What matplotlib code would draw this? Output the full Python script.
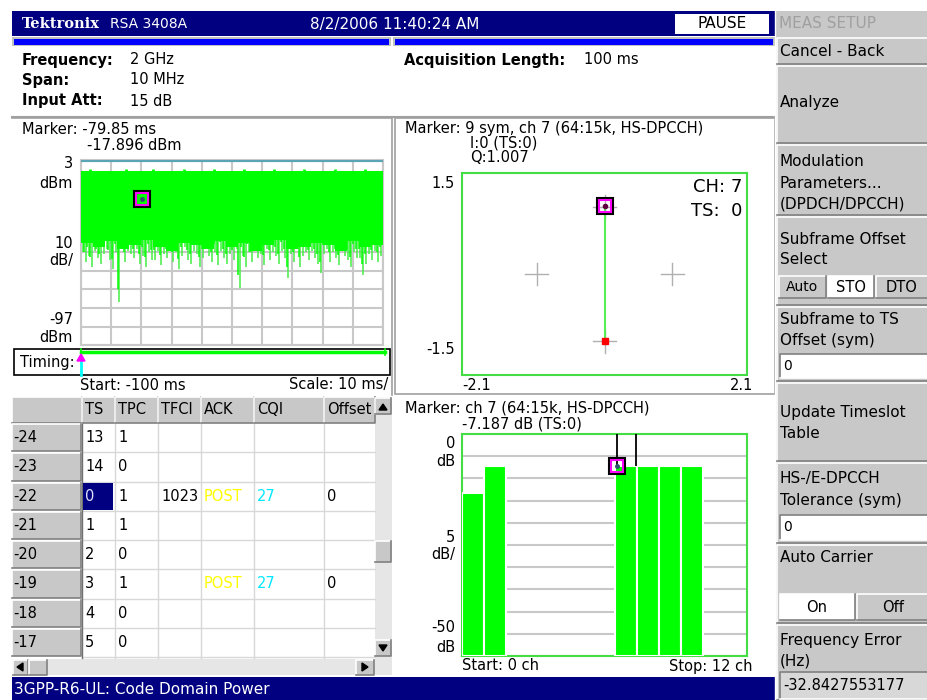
import numpy as np
import matplotlib.pyplot as plt
from matplotlib.patches import Rectangle, Polygon

W, H = 928, 700
NAVY = "#000080"
GREEN = "#00ff00"
GRAY = "#c8c8c8"
GRID = "#c8c8c8"

# --- data read from the screen ---
# time trace: minimum level per 1 ms bin (dBm), -100 ms .. -1 ms
trace_min = [-47, -52, -49, -55, -46, -50, -53, -48, -45, -51,
             -56, -47, -74, -44, -52, -46, -48, -50, -45, -53,
             -49, -55, -47, -51, -51, -46, -54, -48, -50, -45,
             -52, -47, -56, -49, -44, -51, -53, -46, -48, -55,
             -50, -45, -49, -52, -47, -54, -46, -50, -53, -48,
             -51, -45, -66, -49, -55, -47, -52, -46, -50, -48,
             -54, -45, -51, -47, -49, -53, -46, -50, -61, -48,
             -52, -45, -55, -49, -47, -51, -46, -50, -53, -58,
             -48, -45, -52, -47, -50, -54, -46, -49, -51, -55,
             -47, -50, -50, -59, -53, -48, -51, -46, -52, -49]
trace_floor = [-42, -44, -41, -45, -43, -40, -44, -46, -42, -43, -45, -41, -44,
               -42, -46, -43, -40, -45, -44, -42, -43, -46, -41, -44, -43]
trace_top = -3.0
peak_times = [-97, -85, -76, -66, -56, -46, -36, -26, -16, -6]
time_marker = (-79.85, -17.896)

cdp_channels = [0, 1, 7, 8, 9, 10]
cdp_levels = [-13.3, -7.19, -7.187, -7.19, -7.19, -7.19]
cdp_marker = (7.05, -7.187)

const_i = [0.0, 0.0]
const_q = [-1.0, 1.007]
const_ref = [(-1, 0), (1, 0), (0, 1), (0, -1)]

tbl_cols = ["TS", "TPC", "TFCI", "ACK", "CQI", "Offset"]
tbl_rows = ["-24", "-23", "-22", "-21", "-20", "-19", "-18", "-17"]
tbl_ts = ["13", "14", "0", "1", "2", "3", "4", "5"]
tbl_tpc = ["1", "0", "1", "1", "0", "1", "0", "0"]
tbl_tfci = ["", "", "1023", "", "", "", "", ""]
tbl_ack = ["", "", "POST", "", "", "POST", "", ""]
tbl_cqi = ["", "", "27", "", "", "27", "", ""]
tbl_off = ["", "", "0", "", "", "0", "", ""]

fig = plt.figure(figsize=(W / 100, H / 100), dpi=100)
bg = fig.add_axes([0, 0, 1, 1])
bg.set_xlim(0, W)
bg.set_ylim(H, 0)
bg.axis("off")

FS = 10.5


def rect(x0, y0, x1, y1, fc, ec="none", lw=1.0, z=1, **kw):
    bg.add_patch(Rectangle((x0, y0), x1 - x0, y1 - y0, facecolor=fc,
                           edgecolor=ec, lw=lw, zorder=z, **kw))


def txt(x, y, s, size=FS, ha="left", color="black", weight="normal", z=5, **kw):
    bg.text(x, y, s, fontsize=size, ha=ha, va="center", color=color,
            fontweight=weight, zorder=z, **kw)


def bevel(x0, y0, x1, y1, fc=GRAY, sunken=False):
    rect(x0, y0, x1, y1, fc, z=2)
    lt, rb = ("#808080", "white") if sunken else ("white", "#808080")
    bg.plot([x0, x0, x1], [y1, y0, y0], color=lt, lw=1.2, zorder=3)
    bg.plot([x0, x1, x1], [y1, y1, y0], color=rb, lw=1.2, zorder=3)


def fbox(x0, y0, x1, y1):
    return [x0 / W, 1 - y1 / H, (x1 - x0) / W, (y1 - y0) / H]


# --- title bar ---
rect(12, 11, 775, 36, NAVY)
txt(22, 24, "Tektronix", weight="bold", color="white", size=10.5, family="DejaVu Serif")
txt(110, 24, "RSA 3408A", color="white", size=10)
txt(310, 24, "8/2/2006 11:40:24 AM", color="white", size=11)
rect(675, 14, 769, 34, "white")
txt(722, 24, "PAUSE", ha="center", size=11)
rect(12, 37, 391, 46, "#c0c0c0")
rect(14, 38.5, 389, 45, "#0000ff")
rect(393, 37, 775, 46, "#c0c0c0")
rect(395, 38.5, 773, 45, "#0000ff")

# --- setup info ---
txt(22, 60, "Frequency:", weight="bold", size=10.5)
txt(22, 80, "Span:", weight="bold", size=10.5)
txt(22, 101, "Input Att:", weight="bold", size=10.5)
txt(130, 60, "2 GHz")
txt(130, 80, "10 MHz")
txt(130, 101, "15 dB")
txt(404, 60, "Acquisition Length:", weight="bold", size=10.5)
txt(584, 60, "100 ms")
bg.plot([12, 775], [116.5, 116.5], color="#a0a0a0", lw=1.5)

# --- panel borders ---
bg.plot([12, 392, 392], [118, 118, 395], color="#a0a0a0", lw=1.2)
rect(395, 118, 775, 394, "none", ec="#a0a0a0", lw=1.2)

# --- time domain plot ---
txt(22, 129, "Marker: -79.85 ms")
txt(87, 146, "-17.896 dBm")
for y, s in [(164, "3"), (183, "dBm"), (243, "10"), (261, "dB/"),
             (319, "-97"), (337, "dBm")]:
    txt(73, y, s, ha="right")
ax1 = fig.add_axes(fbox(81, 160, 383, 345))
ax1.fill_between(np.arange(-100, 0, 4), trace_top, trace_floor, step="post",
                 color=GREEN, lw=0, zorder=3)
ax1.fill_between([-4, 0], trace_top, trace_floor[-1], color=GREEN, lw=0, zorder=3)
ax1.vlines(np.arange(-100, 0) + 0.5, trace_top, trace_min, color="#44ee44",
           lw=1.1, zorder=2)
ax1.vlines(np.arange(-100, 0) + 0.1, trace_top, np.array(trace_min) * 0.9,
           color=GREEN, lw=1.1, zorder=2)
ax1.vlines(peak_times, trace_top, trace_top + 1.3, color=GREEN, lw=2, zorder=3)
ax1.axhline(3, color="#5aa5b5", lw=3, zorder=4)
ax1.plot(*time_marker, "s", ms=12, mfc="none", mec="black", mew=1.5, zorder=6)
ax1.plot(*time_marker, "s", ms=9, mfc="none", mec="#ff00ff", mew=1.5, zorder=6)
ax1.plot(*time_marker, "o", ms=2.5, color="#305070", zorder=6)
ax1.set_xlim(-100, 0)
ax1.set_ylim(-97, 3)
ax1.set_xticks(np.arange(-100, 1, 10))
ax1.set_yticks(np.arange(-97, 4, 10))
ax1.grid(True, color=GRID, lw=1.5)
ax1.set_axisbelow(True)
ax1.tick_params(length=0, labelbottom=False, labelleft=False)
for sp in ax1.spines.values():
    sp.set_color(GRID)
    sp.set_linewidth(1.5)

rect(14, 349, 390, 375, "white", ec="black", lw=1.2)
bg.plot([81, 385], [352, 352], color=GREEN, lw=2.5, zorder=4)
bg.plot([81, 81], [349, 355], color=GREEN, lw=1.2, zorder=4)
bg.plot([385, 385], [349, 355], color=GREEN, lw=1.2, zorder=4)
txt(20, 362, "Timing:")
bg.plot([81, 81], [359, 375], color="cyan", lw=2, zorder=5)
bg.add_patch(Polygon([[77, 361], [85, 361], [81, 354]], color="#ff00ff", zorder=6))
txt(80, 385, "Start: -100 ms")
txt(388, 385, "Scale: 10 ms/", ha="right")

# --- constellation ---
txt(405, 128, "Marker: 9 sym, ch 7 (64:15k, HS-DPCCH)")
txt(470, 143, "I:0 (TS:0)")
txt(470, 158, "Q:1.007")
txt(455, 183, "1.5", ha="right")
txt(455, 349, "-1.5", ha="right")
txt(462, 385, "-2.1")
txt(753, 385, "2.1", ha="right")
ax2 = fig.add_axes(fbox(462, 173, 747, 375))
for ci, cq in const_ref:
    ax2.plot([ci - 0.17, ci + 0.17], [cq, cq], color="#b0b0b0", lw=1)
    ax2.plot([ci, ci], [cq - 0.17, cq + 0.17], color="#b0b0b0", lw=1)
ax2.plot(const_i, const_q, color="#55ee55", lw=1.5, zorder=3)
ax2.plot(const_i[0], const_q[0], "s", ms=4, color="red", zorder=4)
ax2.plot(const_i[1], const_q[1], "s", ms=12, mfc="none", mec="black", mew=1.5, zorder=6)
ax2.plot(const_i[1], const_q[1], "s", ms=9, mfc="none", mec="#ff00ff", mew=1.5, zorder=6)
ax2.plot(const_i[1], const_q[1], "o", ms=3, color="#600040", zorder=6)
ax2.text(0.985, 0.93, "CH: 7", transform=ax2.transAxes, ha="right", va="center",
         fontsize=13)
ax2.text(0.985, 0.81, "TS:  0", transform=ax2.transAxes, ha="right", va="center",
         fontsize=13)
ax2.set_xlim(-2.1, 2.1)
ax2.set_ylim(-1.5, 1.5)
ax2.set_xticks([])
ax2.set_yticks([])
for sp in ax2.spines.values():
    sp.set_color("#44dd44")
    sp.set_linewidth(1.5)

# --- timeslot table ---
cx = [12, 82, 115, 158, 201, 254, 324, 375]
ry0, rh = 423, 29.25
bevel(12, 397, 82, 423)
for i, c in enumerate(tbl_cols):
    bevel(cx[i + 1], 397, cx[i + 2], 423)
    txt(cx[i + 1] + 3, 410, c)
rect(82, 423, 375, 658, "white", z=1)
cols = [tbl_ts, tbl_tpc, tbl_tfci, tbl_ack, tbl_cqi, tbl_off]
colors = {3: "#ffff00", 4: "#00e8ff"}
for r, lab in enumerate(tbl_rows):
    y0 = ry0 + r * rh
    bevel(12, y0 + 1, 81, y0 + rh - 1)
    txt(13, y0 + rh / 2, lab)
    bg.plot([82, 375], [y0 + rh, y0 + rh], color="#d8d8d8", lw=1, zorder=2)
    for k, col in enumerate(cols):
        val = col[r]
        if not val:
            continue
        c = colors.get(k, "black")
        if k == 0 and r == 2:
            rect(83, y0 + 1, 113, y0 + rh - 1, NAVY, z=3)
            c = "#e0e0ff"
        txt(cx[k + 1] + 3, y0 + rh / 2, val, color=c)
for x in cx[2:7]:
    bg.plot([x, x], [423, 658], color="#d8d8d8", lw=1, zorder=2)
bg.plot([82, 82], [423, 658], color="#707070", lw=1, zorder=2)
# scrollbars
rect(375, 397, 392, 675, "#e6e6e6", z=1)
bevel(375, 398, 391, 414)
bg.add_patch(Polygon([[379, 410], [387, 410], [383, 404]], color="black", zorder=4))
bevel(375, 541, 391, 562)
bevel(375, 640, 391, 656)
bg.add_patch(Polygon([[379, 645], [387, 645], [383, 651]], color="black", zorder=4))
rect(12, 659, 375, 675, "#e6e6e6", z=1)
bevel(13, 660, 28, 675)
bg.add_patch(Polygon([[23, 663], [23, 671], [17, 667]], color="black", zorder=4))
bevel(29, 660, 47, 675)
bevel(356, 660, 374, 675)
bg.add_patch(Polygon([[362, 663], [362, 671], [368, 667]], color="black", zorder=4))

# --- code domain power ---
txt(405, 408, "Marker: ch 7 (64:15k, HS-DPCCH)")
txt(462, 424, "-7.187 dB (TS:0)")
for y, s in [(444, "0"), (462, "dB"), (537, "5"), (555, "dB/"),
             (628, "-50"), (647, "dB")]:
    txt(455, y, s, ha="right")
ax3 = fig.add_axes(fbox(462, 434, 747, 656))
ax3.bar(cdp_channels, np.array(cdp_levels) + 50, bottom=-50, width=1,
        align="edge", color=GREEN, edgecolor="white", lw=1.5, zorder=3)
ax3.vlines([cdp_marker[0], 7.93], cdp_marker[1], 0, color="black", lw=1.3, zorder=4)
ax3.plot(*cdp_marker, "s", ms=12, mfc="none", mec="black", mew=1.5, zorder=6)
ax3.plot(*cdp_marker, "s", ms=9, mfc="none", mec="#ff00ff", mew=1.5, zorder=6)
ax3.plot(*cdp_marker, "o", ms=2.5, color="#305070", zorder=6)
ax3.set_xlim(0, 13)
ax3.set_ylim(-50, 0)
ax3.set_yticks(np.arange(-50, 1, 5))
ax3.set_xticks([])
ax3.grid(True, axis="y", color=GRID, lw=1.5)
ax3.set_axisbelow(True)
ax3.tick_params(length=0, labelleft=False)
for sp in ax3.spines.values():
    sp.set_color("#44dd44")
    sp.set_linewidth(1.5)
txt(462, 666, "Start: 0 ch")
txt(753, 666, "Stop: 12 ch", ha="right")

# --- status bar ---
rect(12, 677, 775, 700, NAVY)
txt(14, 689, "3GPP-R6-UL: Code Domain Power", color="white", size=11)

# --- side menu ---
rect(775, 11, W, H, GRAY, z=0)
bg.plot([775.5, 775.5], [11, H], color="white", lw=1)
txt(779, 24, "MEAS SETUP", color="#a0a0a0", size=11)
menu = [(38, 64, 52, ["Cancel - Back"]),
        (66, 143, 103, ["Analyze"]),
        (145, 215, 162, ["Modulation", "Parameters...", "(DPDCH/DPCCH)"]),
        (217, 305, 239, ["Subframe Offset", "Select"]),
        (307, 381, 319, ["Subframe to TS", "Offset (sym)"]),
        (383, 461, 412, ["Update Timeslot", "Table"]),
        (463, 543, 479, ["HS-/E-DPCCH", "Tolerance (sym)"]),
        (545, 623, 558, ["Auto Carrier"]),
        (625, 700, 640, ["Frequency Error", "(Hz)"])]
for y0, y1, ty, lines in menu:
    bevel(777, y0, 929, y1)
    for j, s in enumerate(lines):
        txt(780, ty + 21 * j, s, size=11)
# sub-buttons
bevel(779, 276, 826, 298)
txt(802, 287, "Auto", ha="center", size=10)
bevel(828, 276, 874, 298, fc="white")
txt(851, 287, "STO", ha="center", size=10.5)
bevel(876, 276, 929, 298)
txt(902, 287, "DTO", ha="center", size=10.5)
bevel(780, 354, 929, 378, fc="white", sunken=True)
txt(783, 366, "0", size=10)
bevel(780, 515, 929, 540, fc="white", sunken=True)
txt(783, 527, "0", size=10)
bevel(780, 594, 855, 620, fc="white")
txt(817, 607, "On", ha="center")
bevel(857, 594, 929, 620)
txt(893, 607, "Off", ha="center")
bevel(780, 672, 929, 699, fc="#d8d8d8", sunken=True)
txt(783, 686, "-32.8427553177", size=10.5)

fig.savefig("out.png", dpi=100, facecolor="white")
